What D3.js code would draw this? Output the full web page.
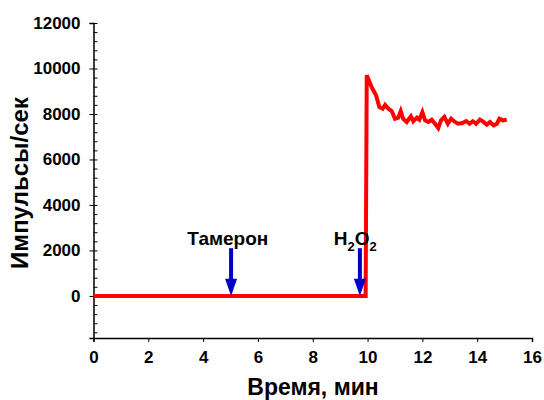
<!DOCTYPE html>
<html>
<head>
<meta charset="utf-8">
<script src="https://cdn.jsdelivr.net/npm/d3@7"></script>
<style>
  body { margin: 0; background: #fff; }
  text { font-family: "Liberation Sans", Arial, sans-serif; font-weight: bold; }
</style>
</head>
<body>
<svg id="chart" width="544" height="400"></svg>
<script>
const width = 544;
const height = 400;

// Time (min) and counts (impulses/sec)
const times = [0, 1, 2, 3, 4, 5, 6, 7, 8, 9, 9.5, 9.93,
  9.97, 10.15, 10.31, 10.43, 10.55, 10.64, 10.76, 10.88, 11.0, 11.12, 11.21, 11.3,
  11.43, 11.58, 11.67, 11.8, 11.89, 12.0, 12.1, 12.22, 12.34, 12.46, 12.58, 12.68,
  12.8, 12.93, 13.05, 13.19, 13.31, 13.46, 13.6, 13.72, 13.84, 13.96, 14.1, 14.23,
  14.35, 14.47, 14.6, 14.72, 14.81, 14.93, 15.08];
const counts = [0, 0, 0, 0, 0, 0, 0, 0, 0, 0, 0, 0,
  9700, 9180, 8820, 8300, 8230, 8400, 8230, 8130, 7790, 7840, 8130, 7790,
  7650, 7900, 7680, 7840, 7750, 8080, 7720, 7650, 7750, 7570, 7380, 7720,
  7870, 7570, 7790, 7650, 7570, 7600, 7690, 7570, 7680, 7570, 7750, 7650,
  7530, 7650, 7500, 7570, 7790, 7720, 7750];

const xTicks = [0, 2, 4, 6, 8, 10, 12, 14, 16];
const yTicks = [0, 2000, 4000, 6000, 8000, 10000, 12000];
const yMinorTicks = d3.range(-1600, 12001, 400);

// Additions marked with arrows
const additions = [
  { t: 5.02, label: "Тамерон" },
  { t: 9.72, label: "H2O2" }
];

const svg = d3.select("#chart");

const x = d3.scaleLinear().domain([0, 16]).range([93.5, 532]);
const y = d3.scaleLinear().domain([-1850, 12000]).range([338, 23]);

// Y axis: major ticks outside, minor ticks inside
svg.append("g")
  .attr("transform", `translate(${x(0)},0)`)
  .call(d3.axisLeft(y).tickValues(yTicks).tickSize(4).tickPadding(9).tickFormat(d3.format("d")))
  .call(g => g.select(".domain").attr("stroke-width", 1.5))
  .call(g => g.selectAll("text").attr("font-size", 17).attr("fill", "#000"));

svg.append("g")
  .attr("transform", `translate(${x(0)},0)`)
  .call(d3.axisRight(y).tickValues(yMinorTicks).tickSize(4).tickFormat(""))
  .call(g => g.select(".domain").remove());

// X axis
svg.append("g")
  .attr("transform", `translate(0,${y(-1850)})`)
  .call(d3.axisBottom(x).tickValues(xTicks).tickSize(4).tickPadding(9).tickFormat(d3.format("d")))
  .call(g => g.select(".domain").attr("stroke-width", 1.5))
  .call(g => g.selectAll("text").attr("font-size", 17).attr("fill", "#000"));

// Axis titles
svg.append("text")
  .attr("x", 313)
  .attr("y", 395)
  .attr("text-anchor", "middle")
  .attr("font-size", 23)
  .text("Время, мин");

svg.append("text")
  .attr("transform", `translate(28,183) rotate(-90)`)
  .attr("text-anchor", "middle")
  .attr("font-size", 24)
  .text("Импульсы/сек");

// Data line
const line = d3.line()
  .x((d, i) => x(times[i]))
  .y(d => y(d));

svg.append("path")
  .datum(counts)
  .attr("fill", "none")
  .attr("stroke", "#ff0000")
  .attr("stroke-width", 4)
  .attr("stroke-linejoin", "miter")
  .attr("d", line);

// Arrows
const arrowColor = "#0000c8";
additions.forEach(a => {
  const cx = x(a.t);
  svg.append("line")
    .attr("x1", cx).attr("x2", cx)
    .attr("y1", y(2100)).attr("y2", y(700))
    .attr("stroke", arrowColor)
    .attr("stroke-width", 4);
  svg.append("path")
    .attr("d", `M${cx - 6},${y(750)} L${cx + 6},${y(750)} L${cx},${y(0)} Z`)
    .attr("fill", arrowColor);
});

// Labels
svg.append("text")
  .attr("x", x(4.9))
  .attr("y", y(2240))
  .attr("text-anchor", "middle")
  .attr("font-size", 19)
  .text("Тамерон");

const h2o2 = svg.append("text")
  .attr("x", x(8.77))
  .attr("y", y(2240))
  .attr("font-size", 19);
h2o2.append("tspan").text("H");
h2o2.append("tspan").attr("dy", 6).attr("font-size", 13).text("2");
h2o2.append("tspan").attr("dy", -6).text("O");
h2o2.append("tspan").attr("dy", 6).attr("font-size", 13).text("2");
</script>
</body>
</html>
